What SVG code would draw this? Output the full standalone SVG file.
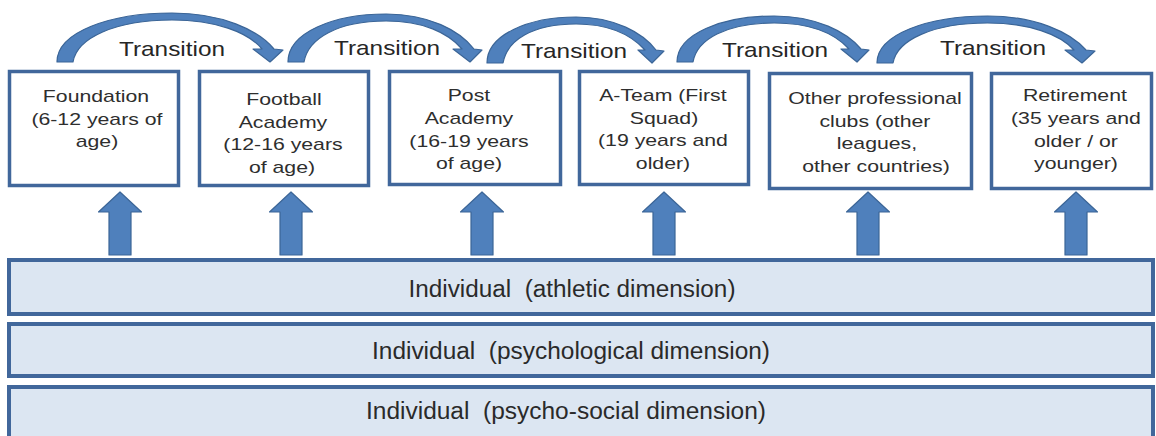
<svg xmlns="http://www.w3.org/2000/svg" xmlns:xlink="http://www.w3.org/1999/xlink" width="1156" height="436" viewBox="0 0 1156 436">
  <style>
    .box { fill: #ffffff; stroke: #41679b; stroke-width: 3.5; }
    .band { fill: #dce6f2; stroke: #41679b; stroke-width: 4; }
    .arrow { fill: #4f80bc; stroke: #3b6597; stroke-width: 1.2; stroke-linejoin: round; }
    .bt { font-family: "Liberation Sans", Arial, sans-serif; font-size: 17px; fill: #2e2e2e; text-anchor: middle;
          transform-box: fill-box; transform-origin: center; transform: scaleX(1.25); }
    .tr { font-family: "Liberation Sans", Arial, sans-serif; font-size: 21px; fill: #262626; text-anchor: middle;
          transform-box: fill-box; transform-origin: center; transform: scaleX(1.16); }
    .lt { font-family: "Liberation Sans", Arial, sans-serif; font-size: 23px; fill: #2a2a2a; text-anchor: middle; }
  </style>
  <defs>
    <!-- block arrow pointing up, tip at (0,0) -->
    <polygon id="up" points="0,0 21.5,20 11,20 11,63 -11,63 -11,20 -21.5,20"/>
  </defs>

  <rect width="1156" height="436" fill="#ffffff"/>

  <!-- dimension bands -->
  <g id="band-athletic">
    <rect class="band" x="9" y="260" width="1144" height="54"/>
    <text class="lt" x="572" y="297" textLength="327" lengthAdjust="spacingAndGlyphs">Individual&#160; (athletic dimension)</text>
  </g>
  <g id="band-psychological">
    <rect class="band" x="9" y="324" width="1144" height="52"/>
    <text class="lt" x="571" y="359" textLength="398" lengthAdjust="spacingAndGlyphs">Individual&#160; (psychological dimension)</text>
  </g>
  <g id="band-psychosocial">
    <rect class="band" x="9" y="387" width="1144" height="60"/>
    <text class="lt" x="566" y="419" textLength="400" lengthAdjust="spacingAndGlyphs">Individual&#160; (psycho-social dimension)</text>
  </g>

  <!-- career stages -->
  <g id="stage-foundation">
    <rect class="box" x="9.5" y="71.5" width="169" height="114"/>
    <text class="bt" x="96" y="102">Foundation</text>
    <text class="bt" x="97" y="125">(6-12 years of</text>
    <text class="bt" x="97" y="147">age)</text>
  </g>
  <g id="stage-academy">
    <rect class="box" x="199.5" y="71.5" width="169" height="114"/>
    <text class="bt" x="284" y="105">Football</text>
    <text class="bt" x="283" y="128">Academy</text>
    <text class="bt" x="283" y="150">(12-16 years</text>
    <text class="bt" x="282" y="173">of age)</text>
  </g>
  <g id="stage-post-academy">
    <rect class="box" x="389.5" y="71.5" width="171" height="113"/>
    <text class="bt" x="469" y="101">Post</text>
    <text class="bt" x="469" y="124">Academy</text>
    <text class="bt" x="469" y="147">(16-19 years</text>
    <text class="bt" x="469" y="169">of age)</text>
  </g>
  <g id="stage-a-team">
    <rect class="box" x="579.5" y="71.5" width="169" height="113"/>
    <text class="bt" x="663" y="101">A-Team (First</text>
    <text class="bt" x="664" y="124">Squad)</text>
    <text class="bt" x="663" y="146">(19 years and</text>
    <text class="bt" x="663" y="169">older)</text>
  </g>
  <g id="stage-other-clubs">
    <rect class="box" x="769.5" y="73.5" width="202" height="115"/>
    <text class="bt" x="875" y="104">Other professional</text>
    <text class="bt" x="875" y="127">clubs (other</text>
    <text class="bt" x="877" y="149">leagues,</text>
    <text class="bt" x="876" y="172">other countries)</text>
  </g>
  <g id="stage-retirement">
    <rect class="box" x="991.5" y="73.5" width="160" height="115"/>
    <text class="bt" x="1075" y="101">Retirement</text>
    <text class="bt" x="1076" y="124">(35 years and</text>
    <text class="bt" x="1076" y="147">older / or</text>
    <text class="bt" x="1076" y="169">younger)</text>
  </g>

  <!-- transitions between stages and supports from the bands -->
  <g id="connectors">
    <path class="arrow" d="M57,62 C57,32 110,13 172,13 C222,13 258,30 274,49 L283,50 L270,62 L253,49 L262,49 C248,32 215,20 172,20 C115,20 77,38 73,62 Z"/>
    <path class="arrow" d="M288,62 C288,32.6 333.3,14 386.2,14 C428.9,14 459.7,30.6 474,49 L482,50 L470,62 L453,49 L462,49 C448,32.6 422.9,21 386.2,21 C337.5,21 308,38.5 304,62 Z"/>
    <path class="arrow" d="M487,63 C487,34.8 528.1,17 576.1,17 C614.9,17 642.8,33 656,50 L664,51 L652,63 L638,50 L645,50 C631,34.8 609.5,24 576.1,24 C532,24 507,40.4 503,63 Z"/>
    <path class="arrow" d="M677,62 C677,33.8 721.8,16 774.2,16 C816.4,16 846.8,32 861,49 L869,50 L857,62 L841,49 L849,49 C835,33.8 810.5,23 774.2,23 C726,23 697,39.4 693,62 Z"/>
    <path class="arrow" d="M877,63 C877,34.2 928,16 987.6,16 C1035.7,16 1070.4,32.3 1086,50 L1095,51 L1082,63 L1065,50 L1074,50 C1060,34.2 1029,23 987.6,23 C932.8,23 897,40 893,63 Z"/>

    <use class="arrow" href="#up" xlink:href="#up" transform="translate(120,192)"/>
    <use class="arrow" href="#up" xlink:href="#up" transform="translate(291,192)"/>
    <use class="arrow" href="#up" xlink:href="#up" transform="translate(482,192)"/>
    <use class="arrow" href="#up" xlink:href="#up" transform="translate(664,192)"/>
    <use class="arrow" href="#up" xlink:href="#up" transform="translate(868,192)"/>
    <use class="arrow" href="#up" xlink:href="#up" transform="translate(1076,192)"/>

    <text class="tr" x="172" y="56">Transition</text>
    <text class="tr" x="387" y="55">Transition</text>
    <text class="tr" x="574" y="58">Transition</text>
    <text class="tr" x="775" y="57">Transition</text>
    <text class="tr" x="993" y="55">Transition</text>
  </g>
</svg>
